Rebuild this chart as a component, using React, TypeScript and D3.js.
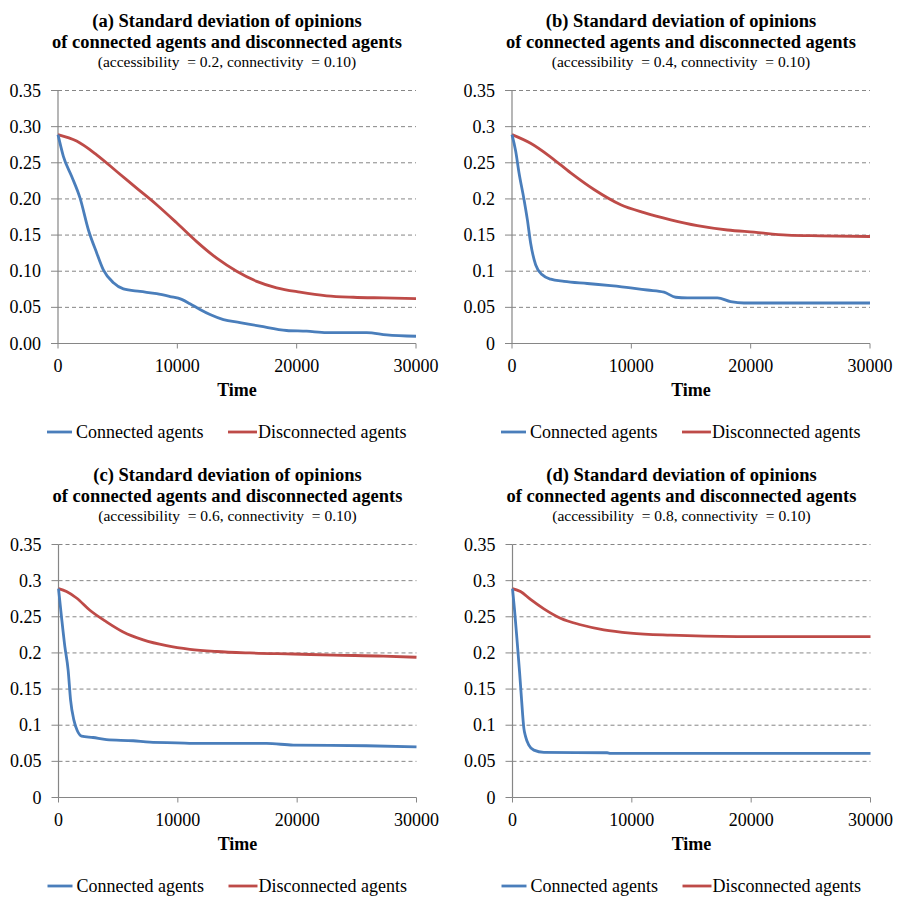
import React from "react";
import * as d3 from "d3";

// ---------- data (time, value) ----------
const connectedA: [number, number][] = [
  [0, 0.289], [450, 0.259], [1150, 0.231], [1850, 0.201], [2550, 0.157], [3250, 0.125],
  [3800, 0.102], [4650, 0.084], [5480, 0.0755], [6870, 0.072], [8270, 0.069], [9390, 0.065],
  [10360, 0.061], [11060, 0.055], [11900, 0.047], [12740, 0.040], [13860, 0.033], [15250, 0.029],
  [16930, 0.024], [19160, 0.018], [20840, 0.017], [22510, 0.015], [25870, 0.015], [27540, 0.012],
  [30000, 0.010],
];
const disconnectedA: [number, number][] = [
  [0, 0.289], [1560, 0.280], [3240, 0.261], [4920, 0.238], [6590, 0.215], [8270, 0.192],
  [9940, 0.167], [11620, 0.141], [13300, 0.118], [14970, 0.100], [16650, 0.086], [18320, 0.077],
  [20280, 0.071], [22510, 0.066], [24750, 0.064], [27260, 0.063], [30000, 0.062],
];
const connectedB: [number, number][] = [
  [0, 0.289], [310, 0.266], [590, 0.236], [1010, 0.199], [1290, 0.171], [1560, 0.139],
  [1980, 0.109], [2540, 0.095], [3240, 0.089], [4360, 0.086], [6310, 0.083], [8270, 0.080],
  [9940, 0.077], [11340, 0.074], [12740, 0.071], [13720, 0.064], [14690, 0.063], [17210, 0.063],
  [18320, 0.058], [19440, 0.056], [30000, 0.056],
];
const disconnectedB: [number, number][] = [
  [0, 0.289], [1560, 0.277], [3240, 0.258], [4920, 0.236], [6870, 0.213], [9110, 0.192],
  [11060, 0.181], [13300, 0.171], [15530, 0.163], [18050, 0.157], [20280, 0.154], [23070, 0.150],
  [25870, 0.149], [30000, 0.148],
];
const connectedC: [number, number][] = [
  [0, 0.289], [250, 0.250], [530, 0.209], [810, 0.176], [1010, 0.135], [1290, 0.107],
  [1560, 0.093], [1930, 0.085], [2900, 0.083], [4020, 0.080], [6260, 0.0785], [7650, 0.0766],
  [9890, 0.0757], [11840, 0.0748], [17430, 0.0748], [19670, 0.0725], [25810, 0.0716], [30000, 0.070],
];
const disconnectedC: [number, number][] = [
  [0, 0.289], [670, 0.285], [1510, 0.276], [2630, 0.259], [4020, 0.243], [5420, 0.229],
  [7100, 0.218], [9050, 0.210], [11010, 0.205], [13240, 0.202], [16030, 0.200], [19670, 0.1985],
  [23020, 0.197], [27210, 0.1957], [30000, 0.194],
];
const connectedD: [number, number][] = [
  [0, 0.289], [170, 0.2595], [390, 0.2155], [590, 0.174], [750, 0.1375], [950, 0.096],
  [1090, 0.0845], [1370, 0.0725], [1790, 0.0655], [2630, 0.0624], [7930, 0.0619], [8210, 0.0610],
  [30000, 0.0610],
];
const disconnectedD: [number, number][] = [
  [0, 0.289], [670, 0.285], [1510, 0.274], [2630, 0.261], [4020, 0.248], [5700, 0.239],
  [7650, 0.232], [9890, 0.2275], [13240, 0.2245], [18830, 0.2225], [30000, 0.2225],
];

const panelLabels = ["(a)", "(b)", "(c)", "(d)"];
const accessibility = ["0.2", "0.4", "0.6", "0.8"];
const connectivity = "0.10";
const yTicks = [0, 0.05, 0.1, 0.15, 0.2, 0.25, 0.3, 0.35];
const xTicks = [0, 10000, 20000, 30000];
const seriesNames = ["Connected agents", "Disconnected agents"];

const connectedAll = [connectedA, connectedB, connectedC, connectedD];
const disconnectedAll = [disconnectedA, disconnectedB, disconnectedC, disconnectedD];

const BLUE = "#4A7EBB";
const RED = "#BE4B48";
const GRAY = "#868686";
const FONT = '"Liberation Serif", "Times New Roman", serif';

function Panel({ idx, ox, oy }: { idx: number; ox: number; oy: number }) {
  const x = d3.scaleLinear().domain([0, 30000]).range([58, 416]);
  const y = d3.scaleLinear().domain([0, 0.35]).range([343.5, 90.5]);
  const line = d3
    .line<[number, number]>()
    .x((d) => x(d[0]))
    .y((d) => y(d[1]))
    .curve(d3.curveMonotoneX);
  const fmt = idx === 0 ? d3.format(".2f") : (v: number) => (v === 0 ? "0" : String(+v.toFixed(2)));
  const cx = (58 + 416) / 2;
  return (
    <g transform={`translate(${ox},${oy})`} style={{ fontFamily: FONT }} fill="#000">
      <text x={cx - 10} y={27} textAnchor="middle" fontWeight="bold" fontSize={18.5}>
        {`${panelLabels[idx]} Standard deviation of opinions`}
      </text>
      <text x={cx - 10} y={48} textAnchor="middle" fontWeight="bold" fontSize={18.5}>
        of connected agents and disconnected agents
      </text>
      <text x={cx - 10} y={67} textAnchor="middle" fontSize={15.5} style={{ whiteSpace: "pre" }}>
        {`(accessibility  = ${accessibility[idx]}, connectivity  = ${connectivity})`}
      </text>
      {yTicks.map((t) => (
        <g key={t}>
          {t > 0 && (
            <line x1={58} x2={416} y1={y(t)} y2={y(t)} stroke={GRAY} strokeWidth={1} strokeDasharray="4,3" />
          )}
          <line x1={51} x2={58} y1={y(t)} y2={y(t)} stroke={GRAY} strokeWidth={1} />
          <text x={41} y={y(t) + 6} textAnchor="end" fontSize={18}>
            {fmt(t)}
          </text>
        </g>
      ))}
      <line x1={58} x2={58} y1={y(0.35)} y2={y(0)} stroke={GRAY} strokeWidth={1.2} />
      <line x1={58} x2={416} y1={y(0)} y2={y(0)} stroke={GRAY} strokeWidth={1.2} />
      {xTicks.map((t) => (
        <g key={t}>
          <line x1={x(t)} x2={x(t)} y1={y(0)} y2={y(0) + 5} stroke={GRAY} strokeWidth={1} />
          <text x={x(t)} y={372} textAnchor="middle" fontSize={18}>
            {t}
          </text>
        </g>
      ))}
      <text x={cx} y={396} textAnchor="middle" fontWeight="bold" fontSize={18}>
        Time
      </text>
      <path d={line(disconnectedAll[idx]) || ""} fill="none" stroke={RED} strokeWidth={2.8} />
      <path d={line(connectedAll[idx]) || ""} fill="none" stroke={BLUE} strokeWidth={2.8} />
      <line x1={47} x2={72} y1={432} y2={432} stroke={BLUE} strokeWidth={2.8} />
      <text x={76} y={438} fontSize={18}>
        {seriesNames[0]}
      </text>
      <line x1={228} x2={257} y1={432} y2={432} stroke={RED} strokeWidth={2.8} />
      <text x={258} y={438} fontSize={18}>
        {seriesNames[1]}
      </text>
    </g>
  );
}

export default function App() {
  return (
    <svg
      width={908}
      height={908}
      style={{ position: "absolute", left: 0, top: 0, background: "#fff", fontFamily: FONT }}
    >
      <rect width={908} height={908} fill="#fff" />
      <Panel idx={0} ox={0} oy={0} />
      <Panel idx={1} ox={454} oy={0} />
      <Panel idx={2} ox={0.5} oy={454} />
      <Panel idx={3} ox={454.5} oy={454} />
    </svg>
  );
}
